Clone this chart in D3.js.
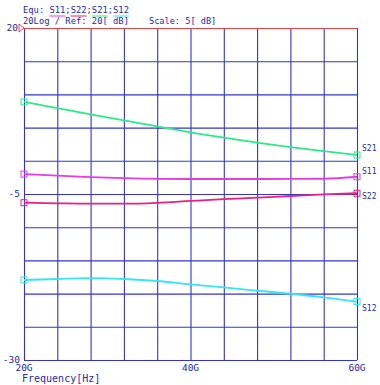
<!DOCTYPE html>
<html>
<head>
<meta charset="utf-8">
<script src="https://cdn.jsdelivr.net/npm/d3@7"></script>
<style>
  body { margin: 0; background: #fff; }
  text { font-family: "DejaVu Sans Mono", monospace; }
</style>
</head>
<body>
<svg id="chart" width="380" height="385"></svg>
<script>
// frequency points in GHz
const freqs = [20, 24, 28, 32, 36, 40, 44, 48, 52, 56, 60];

const s21 = [8.86, 7.95, 7.0, 6.08, 5.18, 4.28, 3.48, 2.75, 2.07, 1.46, 0.87];
const s11 = [-2.0, -2.24, -2.46, -2.62, -2.72, -2.74, -2.74, -2.74, -2.73, -2.7, -2.4];
const s22 = [-6.31, -6.40, -6.46, -6.46, -6.33, -6.05, -5.78, -5.55, -5.30, -5.07, -4.89];
const s12 = [-17.95, -17.80, -17.68, -17.8, -18.1, -18.62, -19.07, -19.55, -20.02, -20.56, -21.2];

const seriesNames = ["S11", "S22", "S21", "S12"];
const xTickLabels = ["20G", "40G", "60G"];
const yTickLabels = [20, -5, -30];

const series = [
  {name: "S21", values: s21, color: "#2ee88a"},
  {name: "S11", values: s11, color: "#e63ce6"},
  {name: "S22", values: s22, color: "#e8207e"},
  {name: "S12", values: s12, color: "#38e4f0"}
];

const svg = d3.select("#chart");
const margin = {top: 28, right: 23, bottom: 25, left: 24};
const width = 380, height = 385;
const innerWidth = width - margin.left - margin.right;
const innerHeight = height - margin.top - margin.bottom;
const textColor = "#2828a8";

const xScale = d3.scaleLinear().domain([20, 60]).range([0, innerWidth]);
const yScale = d3.scaleLinear().domain([-30, 20]).range([innerHeight, 0]);

const g = svg.append("g")
  .attr("transform", `translate(${margin.left}, ${margin.top})`);

// grid
g.append("g").call(d3.axisBottom(xScale).tickValues(d3.range(20, 61, 4)).tickSize(innerHeight).tickFormat(""))
  .call(a => a.select(".domain").remove())
  .call(a => a.selectAll("text").remove())
  .selectAll(".tick line").attr("stroke", "#3434c8").attr("stroke-width", 1.1);

g.append("g").call(d3.axisLeft(yScale).tickValues(d3.range(-30, 21, 5)).tickSize(-innerWidth).tickFormat(""))
  .call(a => a.select(".domain").remove())
  .call(a => a.selectAll("text").remove())
  .selectAll(".tick line")
  .attr("stroke", d => d === 20 ? "#e04848" : "#3434c8")
  .attr("stroke-width", 1.1);

// ref marker
svg.append("path")
  .attr("d", `M${margin.left - 5},${margin.top - 4} L${margin.left},${margin.top} L${margin.left - 5},${margin.top + 4} Z`)
  .attr("fill", "none").attr("stroke", "#e04848");

// y labels
svg.selectAll(".ylab").data(yTickLabels).enter().append("text")
  .attr("x", d => d === 20 ? 18 : 20)
  .attr("y", d => margin.top + yScale(d) + 3)
  .attr("text-anchor", "end")
  .attr("font-size", 9.5)
  .attr("fill", textColor)
  .text(d => d);

// x labels
svg.selectAll(".xlab").data(xTickLabels).enter().append("text")
  .attr("x", d => margin.left + xScale(parseInt(d)))
  .attr("y", margin.top + innerHeight + 11)
  .attr("text-anchor", "middle")
  .attr("font-size", 9.5)
  .attr("fill", textColor)
  .text(d => d);

svg.append("text").attr("x", 22).attr("y", 382)
  .attr("font-family", "Liberation Sans, sans-serif")
  .attr("font-size", 10).attr("fill", textColor).text("Frequency[Hz]");

// header
const header = svg.append("text").attr("x", 23).attr("y", 13)
  .attr("font-size", 8.8).attr("fill", textColor);
header.text("Equ: " + seriesNames.join(";"));
const charW = 8.8 * 0.602;
seriesNames.forEach((n, i) => {
  const col = series.find(s => s.name === n).color;
  const x0 = 23 + charW * (5 + i * 4);
  svg.append("line").attr("x1", x0).attr("x2", x0 + charW * 3)
    .attr("y1", 16).attr("y2", 16).attr("stroke", col).attr("stroke-width", 1);
});
svg.append("text").attr("x", 23).attr("y", 24).attr("font-size", 8.8).attr("fill", textColor)
  .text("20Log / Ref: 20[ dB]");
svg.append("text").attr("x", 149).attr("y", 24).attr("font-size", 8.6).attr("fill", textColor)
  .text("Scale: 5[ dB]");

// traces
const line = d3.line().x((d, i) => xScale(freqs[i])).y(d => yScale(d)).curve(d3.curveMonotoneX);

const labelShift = {S21: -4, S11: -3, S22: 6, S12: 9};
series.forEach(s => {
  g.append("path").datum(s.values)
    .attr("d", line)
    .attr("fill", "none")
    .attr("stroke", s.color)
    .attr("stroke-width", 1.8);
  [0, s.values.length - 1].forEach(i => {
    g.append("rect")
      .attr("x", xScale(freqs[i]) - 3).attr("y", yScale(s.values[i]) - 3)
      .attr("width", 6).attr("height", 6)
      .attr("fill", "none").attr("stroke", s.color).attr("stroke-width", 1);
  });
  const last = s.values[s.values.length - 1];
  g.append("text")
    .attr("x", innerWidth + 5)
    .attr("y", yScale(last) + labelShift[s.name])
    .attr("font-size", 8).attr("fill", textColor)
    .text(s.name);
});
</script>
</body>
</html>
